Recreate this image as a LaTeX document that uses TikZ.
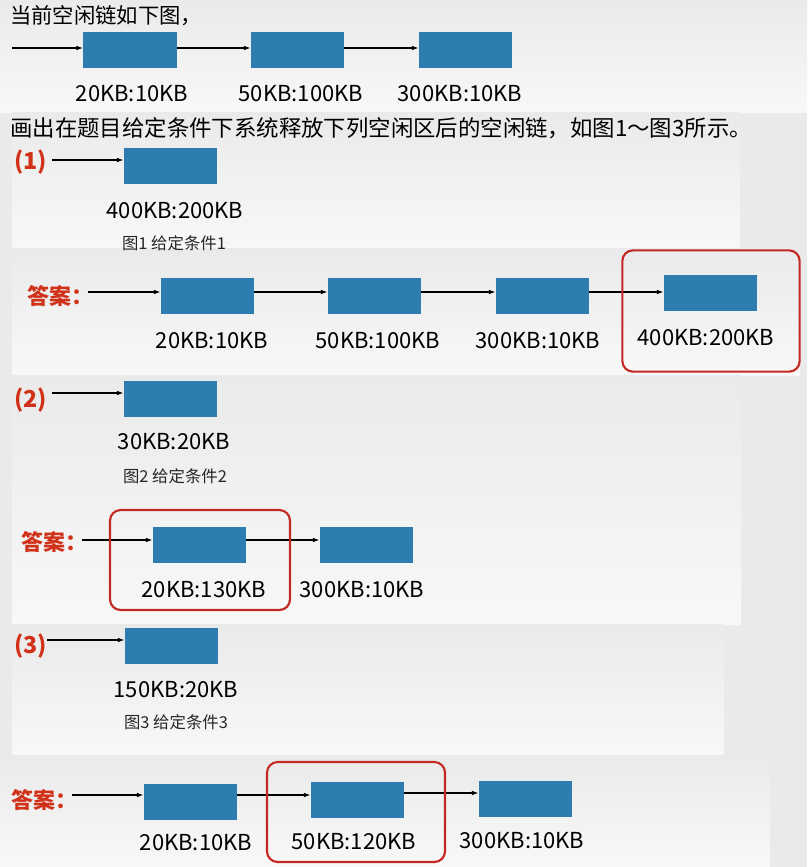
\documentclass[tikz,border=0pt]{standalone}
\usepackage{fontspec}
\setmainfont{Noto Sans CJK SC}
\usetikzlibrary{arrows.meta}
\definecolor{boxblue}{RGB}{46,125,176}
\definecolor{redtxt}{RGB}{208,50,25}
\definecolor{redbox}{RGB}{196,40,36}
\definecolor{bgA}{RGB}{234,234,234}
\definecolor{bgB}{RGB}{248,248,248}
\tikzset{
  blk/.style={fill=boxblue, minimum width=70pt, minimum height=27pt, inner sep=0pt},
  lbl/.style={font=\fontsize{16.5}{18}\selectfont, text=black, inner sep=0pt},
  captxt/.style={font=\fontsize{12.3}{14}\selectfont, text=black!85, inner sep=0pt},
  head/.style={font=\fontsize{16}{18}\selectfont, text=black, anchor=west, inner sep=0pt},
  tag/.style={font=\bfseries\fontsize{16.5}{18}\selectfont, text=redtxt, anchor=west, inner sep=0pt},
  arr/.style={-{Latex[length=5pt,width=3.5pt]}, line width=0.9pt, black},
  hl/.style={draw=redbox, line width=1.6pt, rounded corners=8pt},
  panel/.style={bottom color=bgB, top color=bgA, draw=none}
}
\begin{document}
\begin{tikzpicture}[x=0.75pt,y=-0.75pt]
\useasboundingbox (0,0) rectangle (807,867);
\fill[bgA] (0,0) rectangle (807,867);
\fill[panel] (0,0) rectangle (807,112);
\fill[panel] (12,112) rectangle (740,248);
\fill[panel] (12,248) rectangle (800,375);
\fill[panel] (12,375) rectangle (741,624);
\fill[panel] (12,624) rectangle (724,755);
\fill[panel] (0,755) rectangle (770,867);

% header
\node[head] (t1) at (10,16) {当前空闲链如下图，};
\coordinate (s0) at (12,48);
\node[blk] (b01) at (130,50) {};
\node[blk] (b02) at (297.5,50) {};
\node[blk] (b03) at (465.5,50) {};
\draw[arr] (s0) -- (s0 -| b01.west);
\draw[arr] (b01.east |- s0) -- (s0 -| b02.west);
\draw[arr] (b02.east |- s0) -- (s0 -| b03.west);
\node[lbl] (l01) at (132,94) {20KB:10KB};
\node[lbl] (l02) at (301,94) {50KB:100KB};
\node[lbl] (l03) at (460,94) {300KB:10KB};
\node[head, font=\fontsize{16.8}{18}\selectfont] (t2) at (10,128) {画出在题目给定条件下系统释放下列空闲区后的空闲链，如图1～图3所示。};

% (1)
\node[tag, font=\bfseries\fontsize{17.5}{18}\selectfont] (g1) at (14,162) {(1)};
\coordinate (s1) at (52,160);
\node[blk] (b11) at (170.5,166) {};
\draw[arr] (s1) -- (s1 -| b11.west);
\node[lbl] (l11) at (175,211) {400KB:200KB};
\node[captxt] (c1) at (174,243) {图1 给定条件1};

% answer 1
\node[tag] (a1) at (27,296) {答案：};
\coordinate (s2) at (88,292);
\node[blk] (a11) at (207.5,296) {};
\node[blk] (a12) at (374.5,296) {};
\node[blk] (a13) at (542.5,296) {};
\node[blk] (a14) at (710.5,293) {};
\draw[arr] (s2) -- (s2 -| a11.west);
\draw[arr] (a11.east |- s2) -- (s2 -| a12.west);
\draw[arr] (a12.east |- s2) -- (s2 -| a13.west);
\draw[arr] (a13.east |- s2) -- (s2 -| a14.west);
\node[lbl] (m11) at (212,341) {20KB:10KB};
\node[lbl] (m12) at (378,341) {50KB:100KB};
\node[lbl] (m13) at (538,341) {300KB:10KB};
\node[lbl] (m14) at (706,338) {400KB:200KB};
\node[hl, minimum width=133pt, minimum height=91pt] (r1) at (711,311) {};

% (2)
\node[tag, font=\bfseries\fontsize{17.5}{18}\selectfont] (g2) at (14,400) {(2)};
\coordinate (s3) at (52,393);
\node[blk] (b21) at (170.5,399) {};
\draw[arr] (s3) -- (s3 -| b21.west);
\node[lbl] (l21) at (174,442) {30KB:20KB};
\node[captxt] (c2) at (175,476) {图2 给定条件2};

% answer 2
\node[tag] (a2) at (21,542) {答案：};
\coordinate (s4) at (82,540);
\node[blk] (a21) at (199.5,545) {};
\node[blk] (a22) at (366.5,545) {};
\draw[arr] (s4) -- (s4 -| a21.west);
\draw[arr] (a21.east |- s4) -- (s4 -| a22.west);
\node[lbl] (m21) at (204,590) {20KB:130KB};
\node[lbl] (m22) at (362,590) {300KB:10KB};
\node[hl, minimum width=135pt, minimum height=75pt] (r2) at (200,560) {};

% (3)
\node[tag, font=\bfseries\fontsize{17.5}{18}\selectfont] (g3) at (14,646) {(3)};
\coordinate (s5) at (47,640);
\node[blk] (b31) at (171.5,646) {};
\draw[arr] (s5) -- (s5 -| b31.west);
\node[lbl] (l31) at (176,690) {150KB:20KB};
\node[captxt] (c3) at (176,722) {图3 给定条件3};

% answer 3
\node[tag] (a3) at (11,800) {答案：};
\coordinate (s6) at (72,795);
\node[blk] (a31) at (190.5,802) {};
\node[blk] (a32) at (357.5,800) {};
\node[blk] (a33) at (525.5,799) {};
\draw[arr] (s6) -- (s6 -| a31.west);
\draw[arr] (a31.east |- s6) -- (s6 -| a32.west);
\coordinate (s7) at (404,793);
\draw[arr] (a32.east |- s7) -- (s7 -| a33.west);
\node[lbl] (m31) at (196,843) {20KB:10KB};
\node[lbl] (m32) at (354,842) {50KB:120KB};
\node[lbl] (m33) at (522,841) {300KB:10KB};
\node[hl, minimum width=133.5pt, minimum height=75pt] (r3) at (356,812) {};
\end{tikzpicture}
\end{document}
